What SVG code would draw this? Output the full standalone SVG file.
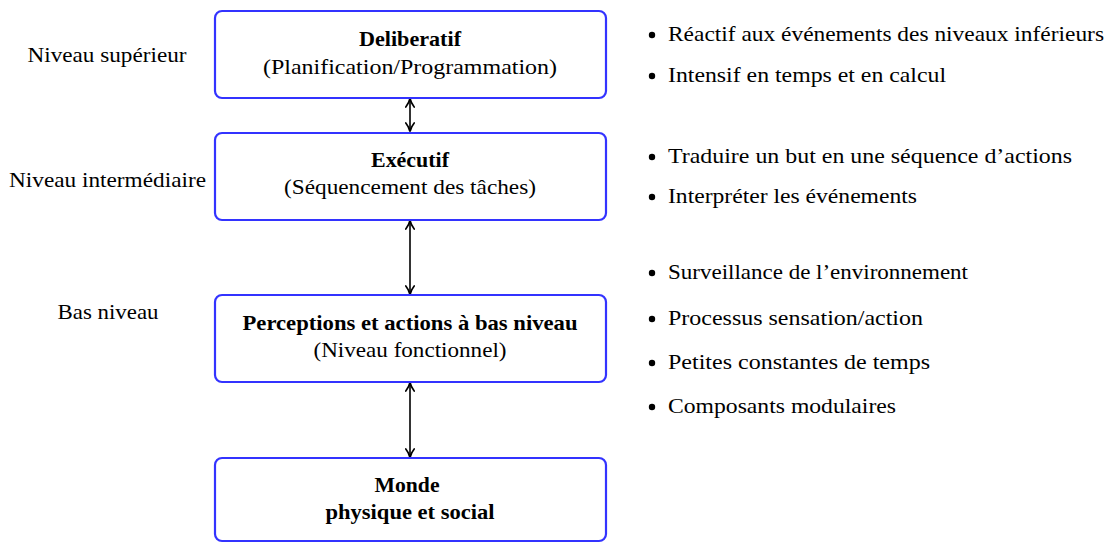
<svg xmlns="http://www.w3.org/2000/svg" width="1108" height="543" viewBox="0 0 1108 543" font-family="'Liberation Serif', 'DejaVu Serif', serif">
<style>
text{font-size:21px;fill:#000}
.b{font-weight:bold}
.box{fill:#fff;stroke:#3333ff;stroke-width:2.2}
.con{stroke:#000;stroke-width:1.6;fill:none;marker-start:url(#ah);marker-end:url(#ah)}
</style>
<defs>
<marker id="ah" viewBox="0 0 10 10" refX="9" refY="5" markerWidth="10" markerHeight="10" orient="auto-start-reverse" markerUnits="userSpaceOnUse">
<path d="M1,0.8 Q5,4 9.5,5 Q5,6 1,9.2" fill="none" stroke="#000" stroke-width="1.7" stroke-linecap="round"/>
</marker>
</defs>
<rect width="1108" height="543" fill="#fff"/>
<g id="connectors">
<line class="con" x1="410" y1="99" x2="410" y2="131"/>
<line class="con" x1="410" y1="221" x2="410" y2="294"/>
<line class="con" x1="410" y1="383" x2="410" y2="457"/>
</g>
<g id="node-deliberatif">
<rect class="box" x="215" y="11" width="391" height="87" rx="7"/>
<text class="b" x="410" y="46" text-anchor="middle" textLength="102" lengthAdjust="spacingAndGlyphs">Deliberatif</text>
<text x="410" y="74" text-anchor="middle" textLength="294" lengthAdjust="spacingAndGlyphs">(Planification/Programmation)</text>
</g>
<g id="node-executif">
<rect class="box" x="215" y="133" width="391" height="87" rx="7"/>
<text class="b" x="410" y="167" text-anchor="middle" textLength="78" lengthAdjust="spacingAndGlyphs">Exécutif</text>
<text x="410" y="194" text-anchor="middle" textLength="252" lengthAdjust="spacingAndGlyphs">(Séquencement des tâches)</text>
</g>
<g id="node-perceptions">
<rect class="box" x="215" y="295" width="391" height="87" rx="7"/>
<text class="b" x="410" y="330" text-anchor="middle" textLength="335" lengthAdjust="spacingAndGlyphs">Perceptions et actions à bas niveau</text>
<text x="410" y="357" text-anchor="middle" textLength="193" lengthAdjust="spacingAndGlyphs">(Niveau fonctionnel)</text>
</g>
<g id="node-monde">
<rect class="box" x="215" y="458" width="391" height="83" rx="7"/>
<text class="b" x="407" y="492" text-anchor="middle" textLength="65" lengthAdjust="spacingAndGlyphs">Monde</text>
<text class="b" x="410" y="519" text-anchor="middle" textLength="169" lengthAdjust="spacingAndGlyphs">physique et social</text>
</g>
<g id="level-labels">
<text x="107" y="62" text-anchor="middle" textLength="159" lengthAdjust="spacingAndGlyphs">Niveau supérieur</text>
<text x="107.5" y="187" text-anchor="middle" textLength="197" lengthAdjust="spacingAndGlyphs">Niveau intermédiaire</text>
<text x="108" y="319" text-anchor="middle" textLength="101" lengthAdjust="spacingAndGlyphs">Bas niveau</text>
</g>
<g id="bullets">
<circle cx="652" cy="35" r="3.2"/>
<text x="668" y="41" textLength="436" lengthAdjust="spacingAndGlyphs">Réactif aux événements des niveaux inférieurs</text>
<circle cx="652" cy="76" r="3.2"/>
<text x="668" y="82" textLength="278" lengthAdjust="spacingAndGlyphs">Intensif en temps et en calcul</text>
<circle cx="652" cy="157" r="3.2"/>
<text x="668" y="163" textLength="404" lengthAdjust="spacingAndGlyphs">Traduire un but en une séquence d’actions</text>
<circle cx="652" cy="197" r="3.2"/>
<text x="668" y="203" textLength="249" lengthAdjust="spacingAndGlyphs">Interpréter les événements</text>
<circle cx="652" cy="273" r="3.2"/>
<text x="668" y="279" textLength="300" lengthAdjust="spacingAndGlyphs">Surveillance de l’environnement</text>
<circle cx="652" cy="319" r="3.2"/>
<text x="668" y="325" textLength="255" lengthAdjust="spacingAndGlyphs">Processus sensation/action</text>
<circle cx="652" cy="363" r="3.2"/>
<text x="668" y="369" textLength="262" lengthAdjust="spacingAndGlyphs">Petites constantes de temps</text>
<circle cx="652" cy="407" r="3.2"/>
<text x="668" y="413" textLength="228" lengthAdjust="spacingAndGlyphs">Composants modulaires</text>
</g>
</svg>
